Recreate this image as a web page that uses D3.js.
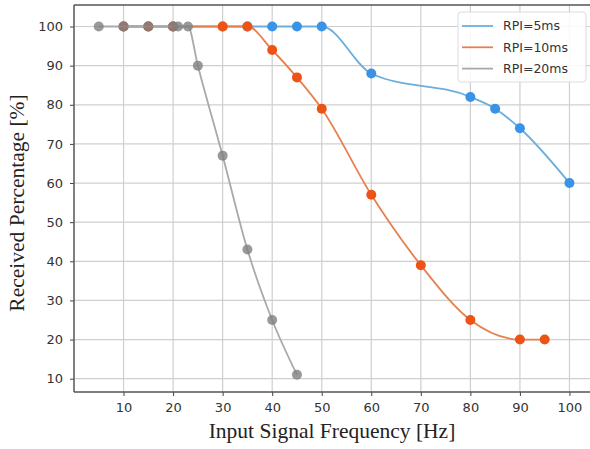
<!DOCTYPE html>
<html lang="en">
<head>
<meta charset="UTF-8">
<title>Received Percentage vs Input Signal Frequency</title>
<script src="https://d3js.org/d3.v7.min.js"></script>
<style>
  body { margin: 0; background: #fff; }
  svg { display: block; }
</style>
</head>
<body>
<div id="chart"></div>
<script>
// data
const freq5 = [10, 15, 20, 30, 35, 40, 45, 50, 60, 80, 85, 90, 100];
const pct5 = [100, 100, 100, 100, 100, 100, 100, 100, 88, 82, 79, 74, 60];

const freq10 = [10, 15, 20, 30, 35, 40, 45, 50, 60, 70, 80, 90, 95];
const pct10 = [100, 100, 100, 100, 100, 94, 87, 79, 57, 39, 25, 20, 20];

const freq20 = [5, 10, 15, 20, 21, 23, 25, 30, 35, 40, 45];
const pct20 = [100, 100, 100, 100, 100, 100, 90, 67, 43, 25, 11];

const seriesNames = ["RPI=5ms", "RPI=10ms", "RPI=20ms"];
const xTicks = [10, 20, 30, 40, 50, 60, 70, 80, 90, 100];
const yTicks = [10, 20, 30, 40, 50, 60, 70, 80, 90, 100];

const W = 590, H = 449;
const margin = { top: 5, right: 0, bottom: 57, left: 74 };

const svg = d3.select("#chart").append("svg")
    .attr("width", W)
    .attr("height", H);

const x = d3.scaleLinear().domain([0, 104.75]).range([margin.left, 593]);
const y = d3.scaleLinear().domain([6.6, 105.5]).range([H - margin.bottom, margin.top]);

// grid
svg.append("g")
    .selectAll("line.vx")
    .data(xTicks)
    .enter().append("line")
    .attr("x1", d => x(d)).attr("x2", d => x(d))
    .attr("y1", y.range()[0]).attr("y2", y.range()[1])
    .attr("stroke", "#cfcfcf").attr("stroke-width", 1.2);

svg.append("g")
    .selectAll("line.hy")
    .data(yTicks)
    .enter().append("line")
    .attr("x1", margin.left).attr("x2", W)
    .attr("y1", d => y(d)).attr("y2", d => y(d))
    .attr("stroke", "#cfcfcf").attr("stroke-width", 1.2);

// axes
const xAxis = d3.axisBottom(x).tickValues(xTicks).tickSize(4).tickPadding(7);
const yAxis = d3.axisLeft(y).tickValues(yTicks).tickSize(4).tickPadding(7);

const gx = svg.append("g")
    .attr("transform", `translate(0,${y.range()[0]})`)
    .call(xAxis);
const gy = svg.append("g")
    .attr("transform", `translate(${margin.left},0)`)
    .call(yAxis);

[gx, gy].forEach(g => {
    g.select(".domain").remove();
    g.selectAll("line").attr("stroke", "#444");
    g.selectAll("text")
        .attr("fill", "#333")
        .style("font-family", "DejaVu Sans, sans-serif")
        .style("font-size", "13px");
});

// frame
svg.append("line")
    .attr("x1", margin.left).attr("x2", W)
    .attr("y1", y.range()[0]).attr("y2", y.range()[0])
    .attr("stroke", "#555").attr("stroke-width", 1.5);
svg.append("line")
    .attr("x1", margin.left).attr("x2", margin.left)
    .attr("y1", y.range()[0]).attr("y2", y.range()[1])
    .attr("stroke", "#555").attr("stroke-width", 1.5);
svg.append("line")
    .attr("x1", margin.left).attr("x2", W)
    .attr("y1", y.range()[1]).attr("y2", y.range()[1])
    .attr("stroke", "#555").attr("stroke-width", 1.5);

// series
const series = [
    { name: seriesNames[0], xs: freq5, ys: pct5, line: "#6aaede", dot: "#3a93e6", op: 1 },
    { name: seriesNames[1], xs: freq10, ys: pct10, line: "#e6814f", dot: "#ee5316", op: 1 },
    { name: seriesNames[2], xs: freq20, ys: pct20, line: "#a9a9a9", dot: "#7f7f7f", op: 0.8 }
];

const line = d3.line()
    .x(d => x(d[0]))
    .y(d => y(d[1]))
    .curve(d3.curveMonotoneX);

series.forEach(s => {
    const pts = s.xs.map((v, i) => [v, s.ys[i]]);
    svg.append("path")
        .datum(pts)
        .attr("fill", "none")
        .attr("stroke", s.line)
        .attr("stroke-width", 1.8)
        .attr("d", line);
    svg.append("g")
        .selectAll("circle")
        .data(pts)
        .enter().append("circle")
        .attr("cx", d => x(d[0]))
        .attr("cy", d => y(d[1]))
        .attr("r", 5)
        .attr("fill", s.dot)
        .attr("fill-opacity", s.op);
});

// legend
const lg = svg.append("g").attr("transform", "translate(458,12)");
lg.append("rect")
    .attr("width", 128).attr("height", 70).attr("rx", 3)
    .attr("fill", "#fff").attr("fill-opacity", 0.85)
    .attr("stroke", "#dcdcdc");
series.forEach((s, i) => {
    lg.append("line")
        .attr("x1", 4).attr("x2", 35)
        .attr("y1", 14 + i * 21.3).attr("y2", 14 + i * 21.3)
        .attr("stroke", s.line).attr("stroke-width", 1.8);
    lg.append("text")
        .attr("x", 45).attr("y", 14 + i * 21.3)
        .attr("dy", "0.35em")
        .attr("fill", "#333")
        .style("font-family", "DejaVu Sans, sans-serif")
        .style("font-size", "12.5px")
        .text(s.name);
});

// axis titles
svg.append("text")
    .attr("x", 332).attr("y", 438)
    .attr("text-anchor", "middle")
    .attr("fill", "#222")
    .style("font-family", "Liberation Serif, serif")
    .style("font-size", "21.5px")
    .text("Input Signal Frequency [Hz]");

svg.append("text")
    .attr("transform", "translate(24,203) rotate(-90)")
    .attr("text-anchor", "middle")
    .attr("fill", "#222")
    .style("font-family", "Liberation Serif, serif")
    .style("font-size", "21.5px")
    .text("Received Percentage [%]");
</script>
</body>
</html>
